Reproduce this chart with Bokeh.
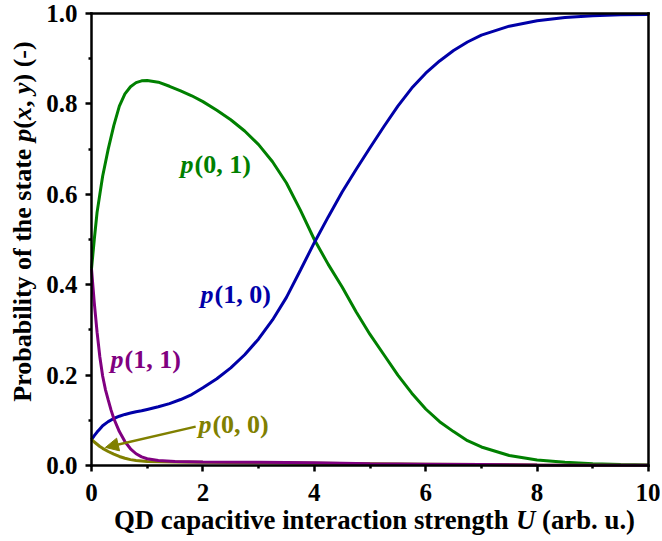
import math
from bokeh.plotting import figure
from bokeh.models import (Range1d, FixedTicker, NumeralTickFormatter, Label,
                          Arrow, NormalHead, LinearAxis)
from bokeh.embed import file_html
from bokeh.resources import INLINE

# ---------------- data ----------------
u_p01 = [0, 0.05, 0.1, 0.15, 0.2, 0.3, 0.4, 0.5, 0.6, 0.7, 0.8, 0.9, 1.0, 1.2, 1.4,
         1.6, 1.8, 2.0, 2.25, 2.5, 2.75, 3.0, 3.25, 3.5, 3.75, 4.0, 4.25, 4.5, 4.75,
         5.0, 5.25, 5.5, 5.75, 6.0, 6.25, 6.5, 6.75, 7.0, 7.5, 8.0, 8.5, 9.0, 9.5, 10.0]
p01 = [0.435, 0.50, 0.56, 0.60, 0.64, 0.70, 0.752, 0.795, 0.822, 0.838, 0.847, 0.851,
       0.852, 0.848, 0.839, 0.829, 0.818, 0.805, 0.786, 0.765, 0.740, 0.710, 0.672,
       0.625, 0.565, 0.500, 0.445, 0.395, 0.340, 0.290, 0.245, 0.200, 0.160, 0.125,
       0.097, 0.075, 0.055, 0.041, 0.022, 0.012, 0.007, 0.004, 0.002, 0.001]

u_p10 = u_p01
p10 = [0.057, 0.066, 0.074, 0.081, 0.088, 0.097, 0.104, 0.109, 0.113, 0.116, 0.119,
       0.121, 0.124, 0.130, 0.137, 0.146, 0.157, 0.172, 0.192, 0.216, 0.245, 0.280,
       0.322, 0.372, 0.432, 0.493, 0.550, 0.605, 0.655, 0.703, 0.750, 0.795, 0.835,
       0.868, 0.895, 0.918, 0.937, 0.952, 0.972, 0.984, 0.991, 0.995, 0.997, 0.998]

u_p11 = [0, 0.05, 0.1, 0.15, 0.2, 0.25, 0.3, 0.35, 0.4, 0.5, 0.6, 0.7, 0.8, 0.9, 1.0,
         1.2, 1.5, 2.0, 3.0, 4.0, 5.0, 6.0, 7.0, 8.0, 10.0]
p11 = [0.435, 0.36, 0.295, 0.24, 0.198, 0.168, 0.145, 0.123, 0.104, 0.075, 0.053,
       0.037, 0.026, 0.019, 0.015, 0.011, 0.009, 0.008, 0.007, 0.006, 0.004, 0.003,
       0.002, 0.001, 0.0005]

u_p00 = [0, 0.05, 0.1, 0.15, 0.2, 0.3, 0.4, 0.5, 0.6, 0.7, 0.8, 1.0, 1.5, 2.0, 3.0,
         4.0, 5.0, 6.0, 7.0, 8.0, 10.0]
p00 = [0.058, 0.052, 0.047, 0.042, 0.038, 0.031, 0.025, 0.020, 0.016, 0.013, 0.011,
       0.009, 0.008, 0.007, 0.006, 0.005, 0.004, 0.003, 0.002, 0.001, 0.0005]

x_ticks = [0, 2, 4, 6, 8, 10]
x_minor = [1, 3, 5, 7, 9]
y_ticks = [0.0, 0.2, 0.4, 0.6, 0.8, 1.0]
y_minor = [0.1, 0.3, 0.5, 0.7, 0.9]

# series labels: (text, colour, x, y) in data coords
series_labels = [("(0, 1)", "#008000", 1.60, 0.646),
                 ("(1, 0)", "#0000A8", 1.957, 0.358),
                 ("(1, 1)", "#800080", 0.341, 0.215),
                 ("(0, 0)", "#808000", 1.92, 0.071)]
arrow_from = (1.87, 0.086)
arrow_to = (0.25, 0.04)

GREEN, BLUE, PURPLE, OLIVE = "#008000", "#0000A8", "#800080", "#808000"
FONT = "Liberation Serif"
TICK_FS = 25
XT_FS = 26.8
YT_FS = 26
LAB_FS = 26
BFIX = 9  # baseline correction of Label text (px)

# canvas geometry: plot box from px 91..648 (x) and 13..465 (y)
W, H = 660, 540
PX0, PX1, PY0, PY1 = 91.0, 648.0, 465.0, 13.0
sx = (PX1 - PX0) / 10.0
sy = (PY0 - PY1) / 1.0
x_rng = Range1d(-PX0 / sx, (W - PX0) / sx)
y_rng = Range1d((PY0 - H) / sy, PY0 / sy)

p = figure(width=W, height=H, output_backend="svg", toolbar_location=None,
           x_range=x_rng, y_range=y_rng,
           min_border=0, min_border_left=0, min_border_right=0,
           min_border_top=0, min_border_bottom=0)
p.background_fill_color = "white"
p.border_fill_color = "white"
p.grid.visible = False
p.outline_line_color = None

xa, ya = p.xaxis[0], p.yaxis[0]
xa.fixed_location = 0
ya.fixed_location = 0
xa.bounds = (0, 10)
ya.bounds = (0, 1)
for ax, ticks, minor in ((xa, x_ticks, x_minor), (ya, y_ticks, y_minor)):
    ax.ticker = FixedTicker(ticks=ticks, minor_ticks=minor)
    ax.axis_line_width = 2.5
    ax.axis_line_color = "black"
    ax.axis_line_cap = "square"
    ax.major_tick_line_width = 2.5
    ax.minor_tick_line_width = 2.5
    ax.major_tick_out = 6
    ax.major_tick_in = 0
    ax.minor_tick_out = 3
    ax.minor_tick_in = 0
    ax.major_label_text_font = FONT
    ax.major_label_text_font_style = "bold"
    ax.major_label_text_font_size = f"{TICK_FS}px"
    ax.major_label_text_color = "black"
xa.formatter = NumeralTickFormatter(format="0")
ya.formatter = NumeralTickFormatter(format="0.0")
xa.major_label_standoff = 12
ya.major_label_standoff = 8

# top and right edges of the box (axes without ticks)
top_ax = LinearAxis(fixed_location=1.0, bounds=(0, 10),
                    ticker=FixedTicker(ticks=[], minor_ticks=[]),
                    axis_line_width=2.5, axis_line_cap="square",
                    major_tick_out=0, minor_tick_out=0)
right_ax = LinearAxis(fixed_location=10.0, bounds=(0, 1),
                      ticker=FixedTicker(ticks=[], minor_ticks=[]),
                      axis_line_width=2.5, axis_line_cap="square",
                      major_tick_out=0, minor_tick_out=0)
p.add_layout(top_ax, "above")
p.add_layout(right_ax, "right")

p.line(u_p01, p01, line_color=GREEN, line_width=3)
p.line(u_p10, p10, line_color=BLUE, line_width=3)
p.line(u_p00, p00, line_color=OLIVE, line_width=3)
p.line(u_p11, p11, line_color=PURPLE, line_width=3)

p.add_layout(Arrow(end=NormalHead(size=13, fill_color=OLIVE, line_color=OLIVE),
                   x_start=arrow_from[0], y_start=arrow_from[1],
                   x_end=arrow_to[0], y_end=arrow_to[1],
                   line_color=OLIVE, line_width=2.5))

for txt, col, lx, ly in series_labels:
    p.add_layout(Label(x=lx, y=ly, y_offset=BFIX, text="p", text_color=col,
                       text_font=FONT, text_font_style="bold italic",
                       text_font_size=f"{LAB_FS}px",
                       text_baseline="alphabetic", text_align="left"))
    p.add_layout(Label(x=lx, y=ly, x_offset=0.5 * LAB_FS + 1, y_offset=BFIX, text=txt,
                       text_color=col, text_font=FONT, text_font_style="bold",
                       text_font_size=f"{LAB_FS}px",
                       text_baseline="alphabetic", text_align="left"))

# ---- axis titles with italic pieces (offsets from Times-Bold widths) ----
F = XT_FS / 1000.0
xt_pieces = [("QD capacitive interaction strength", "bold", 0),
             ("U", "bold italic", 14998),
             ("(arb. u.)", "bold", 15970)]
xt_total = 19442 * F
xt_cx, xt_base = (374.0 - PX0) / sx, (PY0 - 528.0) / sy
for txt, style, off in xt_pieces:
    p.add_layout(Label(x=xt_cx, y=xt_base, x_offset=off * F - xt_total / 2,
                       y_offset=BFIX, text=txt,
                       text_font=FONT, text_font_style=style,
                       text_font_size=f"{XT_FS}px", text_color="black",
                       text_baseline="alphabetic", text_align="left"))

F = YT_FS / 1000.0
yt_pieces = [("Probability of the state", "bold", 0),
             ("p", "bold italic", 9999),
             ("(", "bold", 10499),
             ("x", "bold italic", 10832),
             (",", "bold", 11332),
             ("y", "bold italic", 11832),
             (") (-)", "bold", 12276)]
yt_total = 13858 * F
yt_base, yt_cy = (31.0 - PX0) / sx, (PY0 - 221.0) / sy
for txt, style, off in yt_pieces:
    p.add_layout(Label(x=yt_base, y=yt_cy, x_offset=-BFIX,
                       y_offset=off * F - yt_total / 2, text=txt,
                       angle=math.pi / 2, text_font=FONT, text_font_style=style,
                       text_font_size=f"{YT_FS}px", text_color="black",
                       text_baseline="alphabetic", text_align="left"))

open("out.html", "w").write(file_html(p, INLINE))
